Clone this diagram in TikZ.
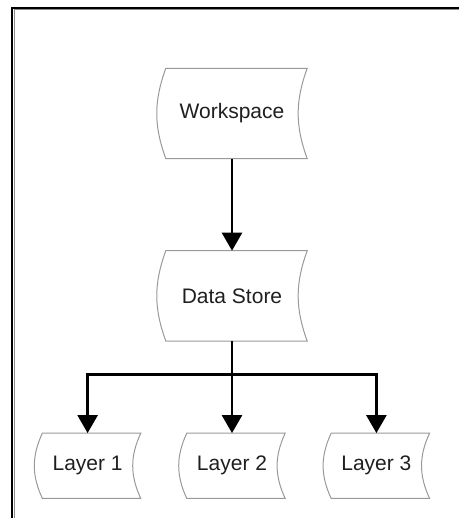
\documentclass[tikz,border=0pt]{standalone}
\usepackage{fontspec}
\setmainfont{Liberation Sans}
\usetikzlibrary{positioning,arrows.meta}

\tikzset{
	store/.style={inner sep=0pt, minimum height=90pt, minimum width=150pt,
		text=black!88, font=\fontsize{21}{25}\selectfont},
	layer/.style={store, minimum height=65pt, minimum width=106pt},
	outline/.style={draw=black!40, line width=1pt},
	flow/.style={line width=2.5pt, -{Triangle[width=20pt,length=18pt]}},
}

\begin{document}
\begin{tikzpicture}[x=1pt,y=1pt]
	\useasboundingbox (0,0) rectangle (459,518);
	
	% frame
	\draw[black!45, line width=1pt] (14,0) -- (14,508.5) -- (459,508.5);
	\draw[line width=2pt] (12,0) -- (12,510) -- (459,510);
	
	\node[store] (ws) at (232,404.5) {Workspace};
	\node[store, below=92pt of ws] (ds) {Data Store};
	\node[layer, below=92pt of ds] (l2) {Layer 2};
	\node[layer, left=38pt of l2] (l1) {Layer 1};
	\node[layer, right=38pt of l2] (l3) {Layer 3};
	
	\foreach \n/\b/\a in {ws/9/20, ds/9/20, l1/8/25, l2/8/25, l3/8/25}
		\draw[outline] ([xshift=\b pt]\n.north west) -- (\n.north east)
			to[bend right=\a] (\n.south east) -- ([xshift=\b pt]\n.south west)
			to[bend left=\a] ([xshift=\b pt]\n.north west) -- cycle;
	
	\draw[flow] (ws.south) -- (ds.north);
	\draw[line width=2.5pt] (ds.south) -- ++(0,-33.5) coordinate (split);
	\draw[flow] (split) -| (l1.north);
	\draw[flow] (split) -- (l2.north);
	\draw[flow] (split) -| (l3.north);
\end{tikzpicture}
\end{document}
